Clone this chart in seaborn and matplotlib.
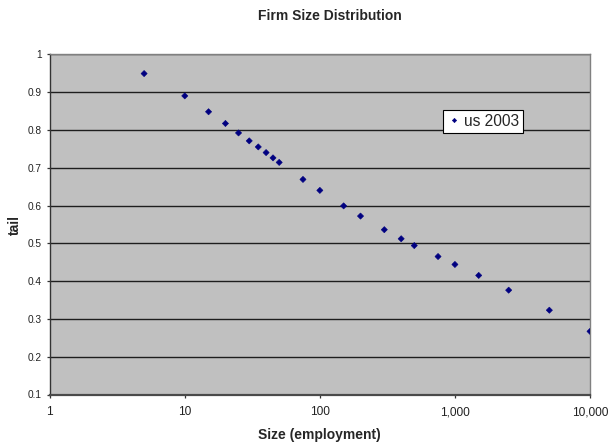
import matplotlib
matplotlib.use("Agg")
import matplotlib.pyplot as plt
import matplotlib.ticker as mticker
import seaborn as sns
import pandas as pd

# Firm size (employment) thresholds and tail share
sizes = [5, 10, 15, 20, 25, 30, 35, 40, 45, 50, 75, 100, 150, 200, 300,
         400, 500, 750, 1000, 1500, 2500, 5000, 10000]
tail = [0.949, 0.890, 0.848, 0.817, 0.792, 0.771, 0.755, 0.740, 0.726, 0.714,
        0.669, 0.640, 0.599, 0.572, 0.536, 0.512, 0.494, 0.465, 0.444, 0.415,
        0.376, 0.323, 0.267]
series_name = "us 2003"
x_ticks = [1, 10, 100, 1000, 10000]
y_ticks = [0.1, 0.2, 0.3, 0.4, 0.5, 0.6, 0.7, 0.8, 0.9, 1.0]

df = pd.DataFrame({"size": sizes, "tail": tail, "series": series_name})

sns.set_theme(style="white")
plt.rcParams["font.family"] = ["Liberation Sans", "DejaVu Sans"]

W, H = 610, 442
left, right, top, bottom = 49.7, 590.0, 54.3, 394.5
fig = plt.figure(figsize=(W / 100, H / 100), dpi=100)
ax = fig.add_axes([left / W, 1 - bottom / H, (right - left) / W, (bottom - top) / H])
ax.set_facecolor("#C0C0C0")

sns.scatterplot(data=df, x="size", y="tail", hue="series", palette=["#000080"],
                marker="D", s=10, edgecolor="#000080", linewidth=0.4, ax=ax, zorder=3)

ax.set_xscale("log")
ax.set_xlim(1, 10000)
ax.set_ylim(0.1, 1.0)
ax.set_xticks(x_ticks)
ax.xaxis.set_minor_locator(mticker.NullLocator())
ax.xaxis.set_major_formatter(mticker.FuncFormatter(lambda v, p: f"{int(round(v)):,}"))
ax.set_yticks(y_ticks)
ax.yaxis.set_major_formatter(mticker.FuncFormatter(lambda v, p: f"{v:g}"))

ax.grid(axis="y", color="#1e1e1e", linewidth=1.0, zorder=1)
ax.set_axisbelow(True)

ax.spines["left"].set_color("#333333")
ax.spines["left"].set_linewidth(1.0)
ax.spines["bottom"].set_color("#4a4a4a")
ax.spines["bottom"].set_linewidth(1.6)
for side in ["right", "top"]:
    ax.spines[side].set_color("#808080")
    ax.spines[side].set_linewidth(1.0)

ax.tick_params(axis="both", which="major", direction="out", length=2.5, width=0.9,
               color="#333333", labelcolor="#222222")
ax.tick_params(axis="y", left=True, labelsize=7.3, pad=3)
ax.tick_params(axis="x", bottom=True, labelsize=8.6, pad=6)

ax.set_xlabel("Size (employment)", fontsize=10, fontweight="bold", labelpad=7)
ax.set_ylabel("")
fig.text(15 / W, 1 - 225 / H, "tail", rotation=90, ha="center", va="center",
         fontsize=10, fontweight="bold")
fig.text(330 / W, 1 - 16 / H, "Firm Size Distribution", ha="center", va="center",
         fontsize=10, fontweight="bold")

leg = ax.legend(loc="upper left",
                bbox_to_anchor=((443.3 - left) / (right - left), (bottom - 110) / (bottom - top)),
                frameon=True, fancybox=False, fontsize=11.2, handletextpad=0.15,
                borderpad=0.25, borderaxespad=0, handlelength=0.9, markerscale=0.7)
leg.get_frame().set_edgecolor("#000000")
leg.get_frame().set_facecolor("white")
leg.get_frame().set_linewidth(0.8)
leg.get_frame().set_alpha(1)

fig.savefig("out.png", dpi=100)
